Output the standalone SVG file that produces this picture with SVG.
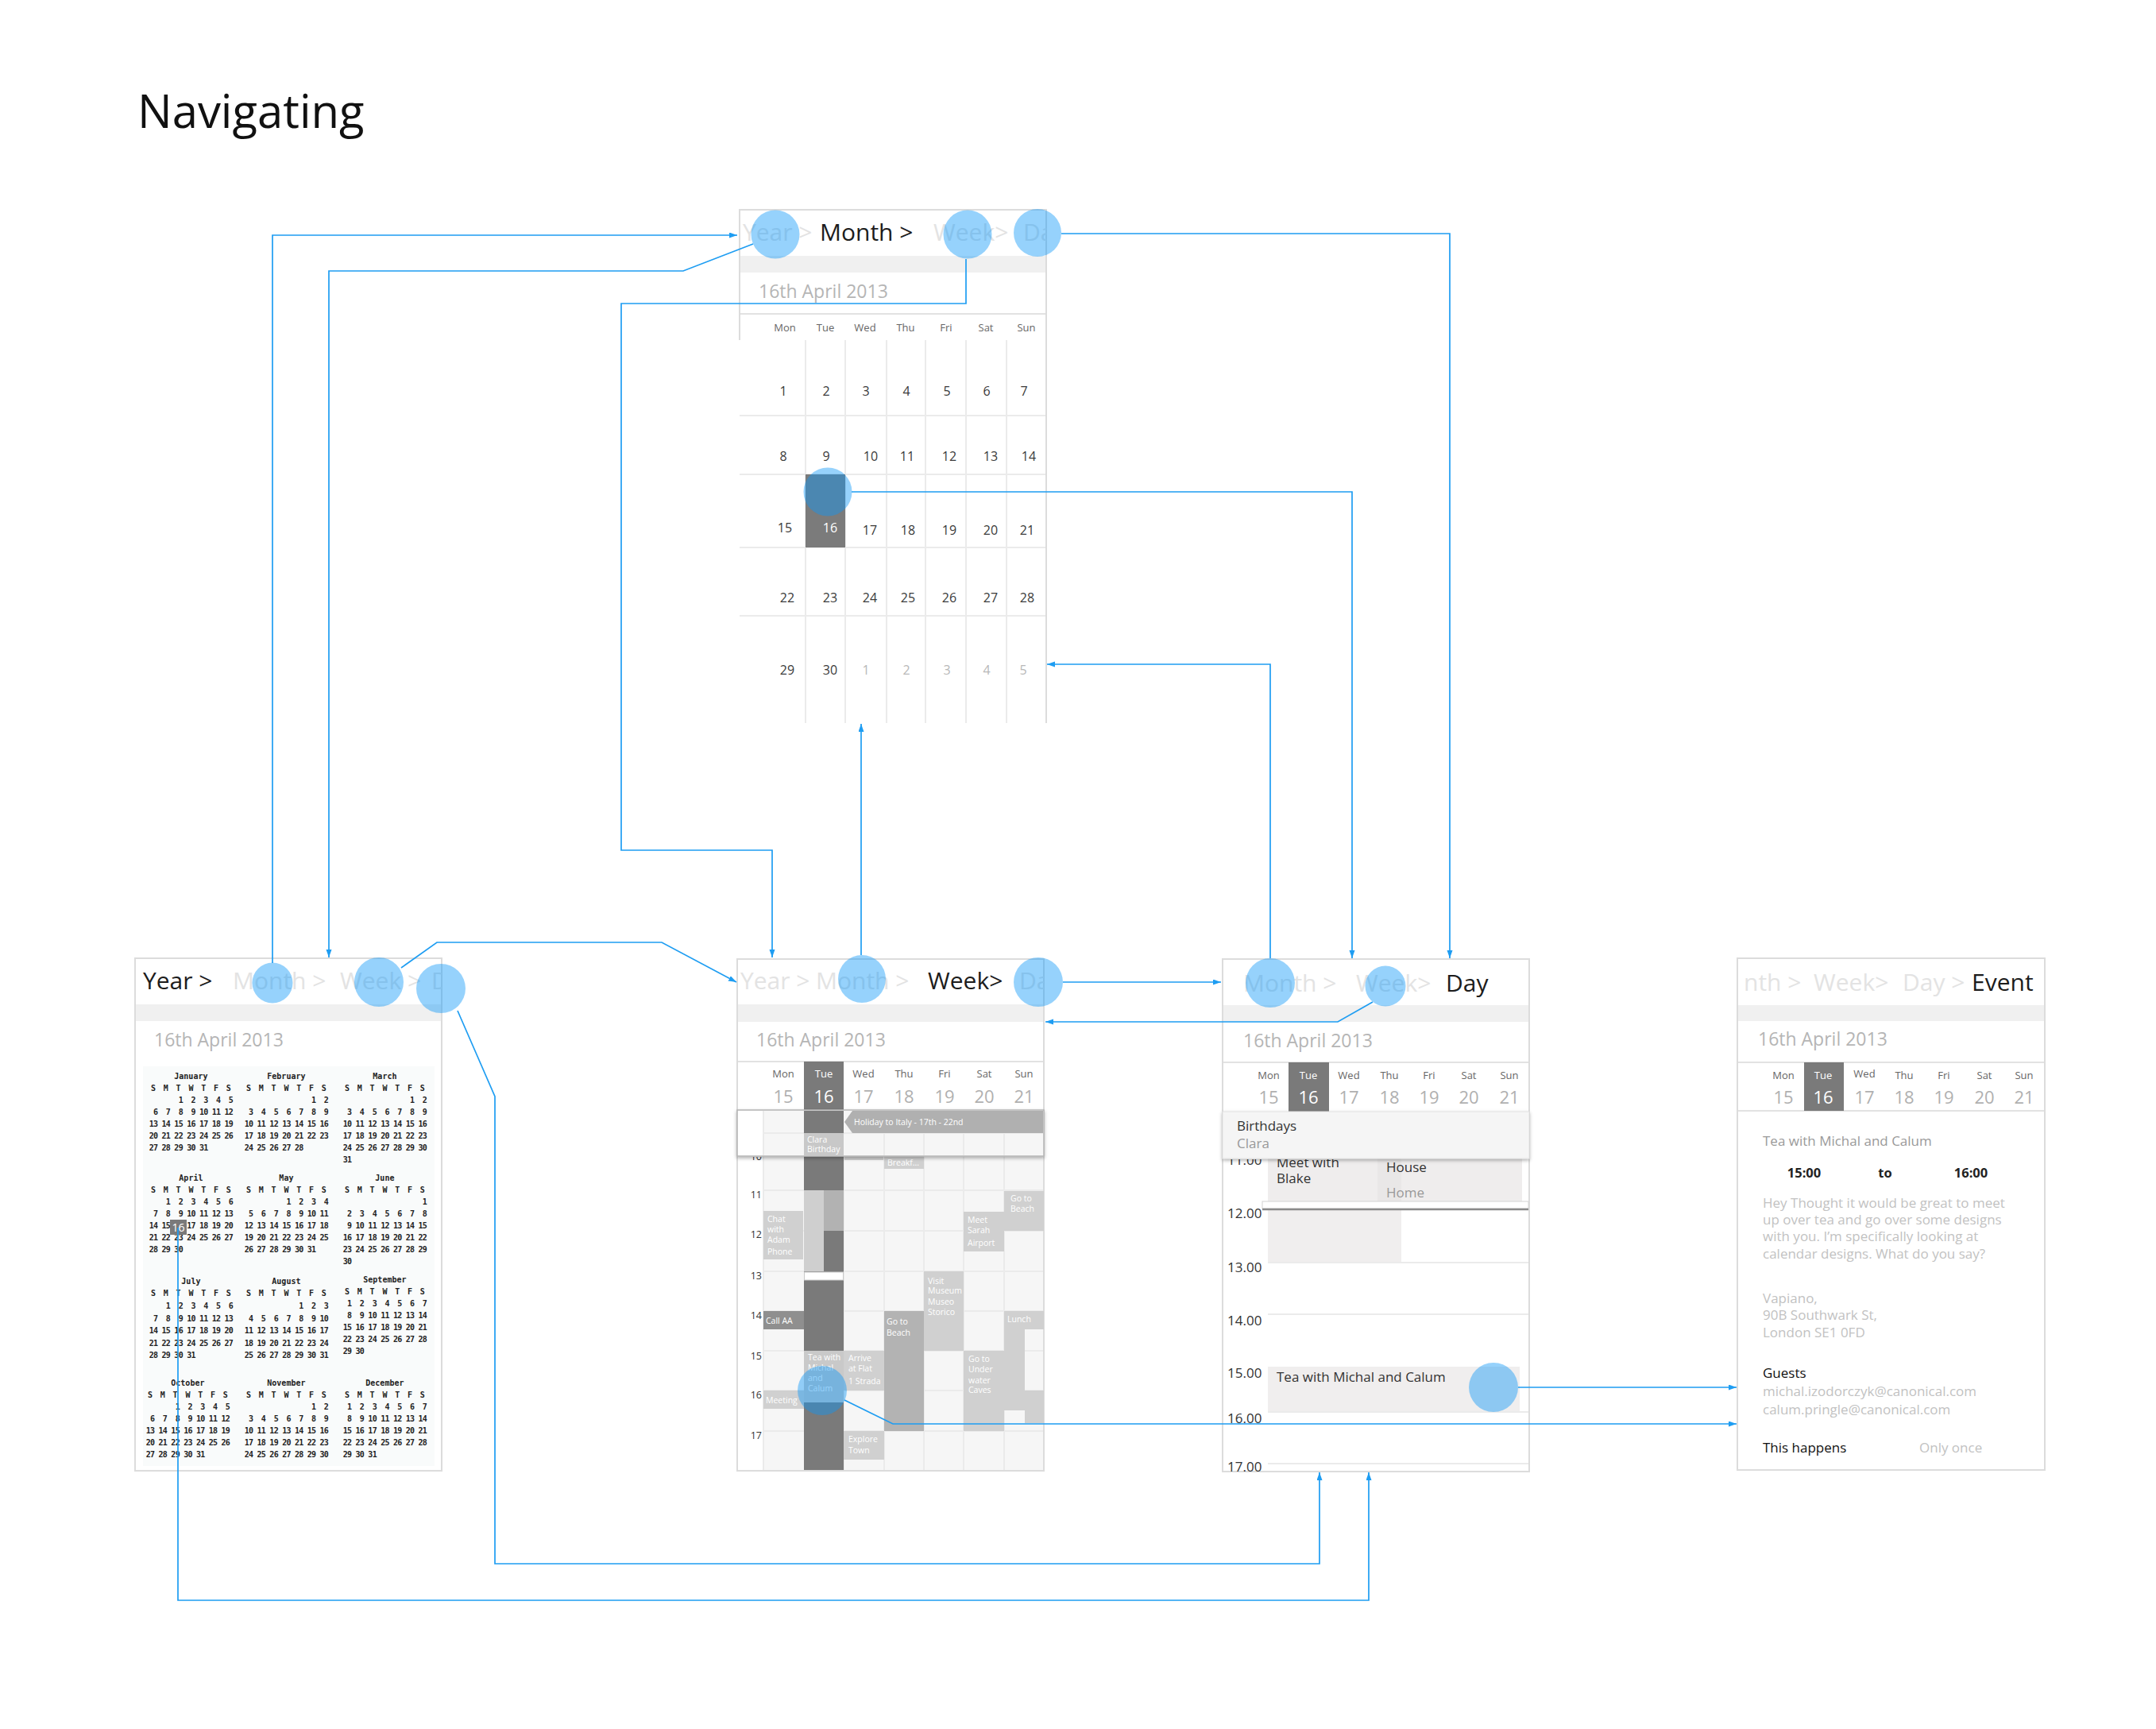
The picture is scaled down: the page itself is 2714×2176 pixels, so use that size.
<svg xmlns="http://www.w3.org/2000/svg" width="2714" height="2176" viewBox="0 0 2714 2176">
<defs>
<style>
text{font-family:"Open Sans","Noto Sans","DejaVu Sans",sans-serif}
.frame{fill:#fff;stroke:#dcdcdc;stroke-width:2}
.band{fill:#f0f0f0}
.hd{font-size:30px;fill:#e3e3e3}
.on{fill:#1c1c1c}
.date{font-size:23px;fill:#b5b5b5}
.dn{font-size:13px;fill:#666;text-anchor:middle}
.wn{font-size:22px;fill:#b0b0b0;text-anchor:middle}
.sel{fill:#fff}
.mn{font-size:16px;fill:#3a3a3a;text-anchor:middle}
.out{fill:#b8b8b8}
.gl{stroke:#ebebeb;stroke-width:2}
.hit{fill:#0c97f9;fill-opacity:.43}
.conn{fill:none;stroke:#1e9df2;stroke-width:1.7}
.ev{font-size:10.5px;fill:#fff}
.hr{font-size:12.5px;fill:#333;text-anchor:end}
.dh{font-size:17px;fill:#333}
.et{font-size:17px;fill:#c2c2c2}
.cal{font-family:"DejaVu Sans Mono",monospace;font-weight:bold;font-size:10px;fill:#222;letter-spacing:-0.753px;white-space:pre}
.calh{font-family:"DejaVu Sans Mono",monospace;font-weight:bold;font-size:10px;fill:#222;text-anchor:middle}
</style>
<marker id="arr" markerUnits="userSpaceOnUse" markerWidth="11" markerHeight="8" refX="10" refY="3.5" orient="auto">
<path d="M0,0 L10,3.5 L0,7 z" fill="#1e9df2"/>
</marker>
<filter id="sh" x="-5%" y="-20%" width="110%" height="150%">
<feDropShadow dx="0" dy="2" stdDeviation="2" flood-color="#000" flood-opacity="0.3"/>
</filter>
<clipPath id="cm"><rect x="931" y="264" width="386" height="58"/></clipPath>
<clipPath id="cy"><rect x="170" y="1206" width="386" height="58"/></clipPath>
<clipPath id="cw"><rect x="928" y="1207" width="386" height="57"/></clipPath>
<clipPath id="cwb"><rect x="928" y="1456" width="386" height="400"/></clipPath>
<clipPath id="cdb"><rect x="1539" y="1459" width="386" height="400"/></clipPath>
</defs>
<rect width="2714" height="2176" fill="#fff"/>

<g id="title"><text x="173" y="161" font-size="58" fill="#111">Navigating</text></g>

<g id="screen-month">
<rect x="931" y="264" width="386" height="646" fill="#fff"/>
<rect x="932" y="322" width="384" height="21" class="band"/>
<line x1="931" y1="395" x2="1317" y2="395" stroke="#e2e2e2" stroke-width="2"/>
<g class="gl">
<line x1="931" y1="523" x2="1317" y2="523"/><line x1="931" y1="597" x2="1317" y2="597"/>
<line x1="931" y1="689" x2="1317" y2="689"/><line x1="931" y1="775" x2="1317" y2="775"/>
<line x1="1014" y1="428" x2="1014" y2="910"/><line x1="1064" y1="428" x2="1064" y2="910"/>
<line x1="1116" y1="428" x2="1116" y2="910"/><line x1="1165" y1="428" x2="1165" y2="910"/>
<line x1="1216" y1="428" x2="1216" y2="910"/><line x1="1267" y1="428" x2="1267" y2="910"/>
</g>
<path d="M931,428 V264 H1317 V910" fill="none" stroke="#dcdcdc" stroke-width="2"/>
<rect x="1014" y="597" width="50" height="92" fill="#7b7b7b"/>
<g clip-path="url(#cm)">
<text x="935" y="303" class="hd">Year &gt;</text>
<text x="1032" y="303" class="hd on">Month &gt;</text>
<text x="1175" y="303" class="hd">Week&gt;</text>
<text x="1288" y="303" class="hd">Da</text>
</g>
<text x="955" y="375" class="date">16th April 2013</text>
<g class="dn">
<text x="988" y="417">Mon</text><text x="1039" y="417">Tue</text><text x="1089" y="417">Wed</text><text x="1140" y="417">Thu</text><text x="1191" y="417">Fri</text><text x="1241" y="417">Sat</text><text x="1292" y="417">Sun</text>
</g>
<g class="mn">
<text x="986" y="498">1</text><text x="1040" y="498">2</text><text x="1090" y="498">3</text><text x="1141" y="498">4</text><text x="1192" y="498">5</text><text x="1242" y="498">6</text><text x="1289" y="498">7</text>
<text x="986" y="580">8</text><text x="1040" y="580">9</text><text x="1096" y="580">10</text><text x="1142" y="580">11</text><text x="1195" y="580">12</text><text x="1247" y="580">13</text><text x="1295" y="580">14</text>
<text x="988" y="670">15</text><text x="1045" y="670" class="sel">16</text><text x="1095" y="673">17</text><text x="1143" y="673">18</text><text x="1195" y="673">19</text><text x="1247" y="673">20</text><text x="1293" y="673">21</text>
<text x="991" y="758">22</text><text x="1045" y="758">23</text><text x="1095" y="758">24</text><text x="1143" y="758">25</text><text x="1195" y="758">26</text><text x="1247" y="758">27</text><text x="1293" y="758">28</text>
<text x="991" y="849">29</text><text x="1045" y="849">30</text><text x="1090" y="849" class="out">1</text><text x="1141" y="849" class="out">2</text><text x="1192" y="849" class="out">3</text><text x="1242" y="849" class="out">4</text><text x="1288" y="849" class="out">5</text>
</g>
<circle cx="976" cy="295" r="30.5" class="hit"/>
<circle cx="1218" cy="295" r="30.5" class="hit"/>
<circle cx="1306" cy="293" r="30" class="hit"/>
<circle cx="1042" cy="619" r="30.5" class="hit"/>
</g>

<g id="screen-year">
<rect x="170" y="1206" width="386" height="645" class="frame"/>
<rect x="171" y="1264" width="384" height="21" class="band"/>
<rect x="180" y="1342" width="367" height="503" fill="#f9fbfb"/>
<g clip-path="url(#cy)">
<text x="180" y="1245" class="hd on">Year &gt;</text>
<text x="293" y="1245" class="hd">Month &gt;</text>
<text x="428" y="1245" class="hd">Week &gt;</text>
<text x="543" y="1245" class="hd">D</text>
</g>
<text x="194" y="1317" class="date">16th April 2013</text>
<g xml:space="preserve">
<text class="calh" x="240.4" y="1358">January</text>
<text class="calh" x="360.4" y="1358">February</text>
<text class="calh" x="484.4" y="1358">March</text>
<text class="calh" x="193 208.8 224.6 240.4 256.2 272 287.8" y="1373">SMTWTFS</text>
<text class="calh" x="313 328.8 344.6 360.4 376.2 392 407.8" y="1373">SMTWTFS</text>
<text class="calh" x="437 452.8 468.6 484.4 500.2 516 531.8" y="1373">SMTWTFS</text>
<text class="cal" x="214.1" y="1388">  1  2  3  4  5</text>
<text class="cal" x="182.5" y="1403">  6  7  8  9 10 11 12</text>
<text class="cal" x="182.5" y="1418"> 13 14 15 16 17 18 19</text>
<text class="cal" x="182.5" y="1433"> 20 21 22 23 24 25 26</text>
<text class="cal" x="182.5" y="1448"> 27 28 29 30 31</text>
<text class="cal" x="381.5" y="1388">  1  2</text>
<text class="cal" x="302.5" y="1403">  3  4  5  6  7  8  9</text>
<text class="cal" x="302.5" y="1418"> 10 11 12 13 14 15 16</text>
<text class="cal" x="302.5" y="1433"> 17 18 19 20 21 22 23</text>
<text class="cal" x="302.5" y="1448"> 24 25 26 27 28</text>
<text class="cal" x="505.5" y="1388">  1  2</text>
<text class="cal" x="426.5" y="1403">  3  4  5  6  7  8  9</text>
<text class="cal" x="426.5" y="1418"> 10 11 12 13 14 15 16</text>
<text class="cal" x="426.5" y="1433"> 17 18 19 20 21 22 23</text>
<text class="cal" x="426.5" y="1448"> 24 25 26 27 28 29 30</text>
<text class="cal" x="426.5" y="1463"> 31</text>

<text class="calh" x="240.4" y="1486">April</text>
<text class="calh" x="360.4" y="1486">May</text>
<text class="calh" x="484.4" y="1486">June</text>
<text class="calh" x="193 208.8 224.6 240.4 256.2 272 287.8" y="1501">SMTWTFS</text>
<text class="calh" x="313 328.8 344.6 360.4 376.2 392 407.8" y="1501">SMTWTFS</text>
<text class="calh" x="437 452.8 468.6 484.4 500.2 516 531.8" y="1501">SMTWTFS</text>
<text class="cal" x="198.3" y="1516">  1  2  3  4  5  6</text>
<text class="cal" x="182.5" y="1531">  7  8  9 10 11 12 13</text>
<text class="cal" x="182.5" y="1546"> 14 15</text>
<text class="cal" x="229.9" y="1546"> 17 18 19 20</text>
<text class="cal" x="182.5" y="1561"> 21 22 23 24 25 26 27</text>
<text class="cal" x="182.5" y="1576"> 28 29 30</text>
<text class="cal" x="349.9" y="1516">  1  2  3  4</text>
<text class="cal" x="302.5" y="1531">  5  6  7  8  9 10 11</text>
<text class="cal" x="302.5" y="1546"> 12 13 14 15 16 17 18</text>
<text class="cal" x="302.5" y="1561"> 19 20 21 22 23 24 25</text>
<text class="cal" x="302.5" y="1576"> 26 27 28 29 30 31</text>
<text class="cal" x="521.3" y="1516">  1</text>
<text class="cal" x="426.5" y="1531">  2  3  4  5  6  7  8</text>
<text class="cal" x="426.5" y="1546">  9 10 11 12 13 14 15</text>
<text class="cal" x="426.5" y="1561"> 16 17 18 19 20 21 22</text>
<text class="cal" x="426.5" y="1576"> 23 24 25 26 27 28 29</text>
<text class="cal" x="426.5" y="1591"> 30</text>

<text class="calh" x="240.4" y="1616">July</text>
<text class="calh" x="360.4" y="1616">August</text>
<text class="calh" x="484.4" y="1614">September</text>
<text class="calh" x="193 208.8 224.6 240.4 256.2 272 287.8" y="1631">SMTWTFS</text>
<text class="calh" x="313 328.8 344.6 360.4 376.2 392 407.8" y="1631">SMTWTFS</text>
<text class="calh" x="437 452.8 468.6 484.4 500.2 516 531.8" y="1629">SMTWTFS</text>
<text class="cal" x="198.3" y="1647">  1  2  3  4  5  6</text>
<text class="cal" x="182.5" y="1662.5">  7  8  9 10 11 12 13</text>
<text class="cal" x="182.5" y="1678"> 14 15 16 17 18 19 20</text>
<text class="cal" x="182.5" y="1693.5"> 21 22 23 24 25 26 27</text>
<text class="cal" x="182.5" y="1709"> 28 29 30 31</text>
<text class="cal" x="365.7" y="1647">  1  2  3</text>
<text class="cal" x="302.5" y="1662.5">  4  5  6  7  8  9 10</text>
<text class="cal" x="302.5" y="1678"> 11 12 13 14 15 16 17</text>
<text class="cal" x="302.5" y="1693.5"> 18 19 20 21 22 23 24</text>
<text class="cal" x="302.5" y="1709"> 25 26 27 28 29 30 31</text>
<text class="cal" x="426.5" y="1644">  1  2  3  4  5  6  7</text>
<text class="cal" x="426.5" y="1659">  8  9 10 11 12 13 14</text>
<text class="cal" x="426.5" y="1674"> 15 16 17 18 19 20 21</text>
<text class="cal" x="426.5" y="1689"> 22 23 24 25 26 27 28</text>
<text class="cal" x="426.5" y="1704"> 29 30</text>

<text class="calh" x="236.4" y="1744">October</text>
<text class="calh" x="360.4" y="1744">November</text>
<text class="calh" x="484.4" y="1744">December</text>
<text class="calh" x="189 204.8 220.6 236.4 252.2 268 283.8" y="1759">SMTWTFS</text>
<text class="calh" x="313 328.8 344.6 360.4 376.2 392 407.8" y="1759">SMTWTFS</text>
<text class="calh" x="437 452.8 468.6 484.4 500.2 516 531.8" y="1759">SMTWTFS</text>
<text class="cal" x="210.1" y="1774">  1  2  3  4  5</text>
<text class="cal" x="178.5" y="1789">  6  7  8  9 10 11 12</text>
<text class="cal" x="178.5" y="1804"> 13 14 15 16 17 18 19</text>
<text class="cal" x="178.5" y="1819"> 20 21 22 23 24 25 26</text>
<text class="cal" x="178.5" y="1834"> 27 28 29 30 31</text>
<text class="cal" x="381.5" y="1774">  1  2</text>
<text class="cal" x="302.5" y="1789">  3  4  5  6  7  8  9</text>
<text class="cal" x="302.5" y="1804"> 10 11 12 13 14 15 16</text>
<text class="cal" x="302.5" y="1819"> 17 18 19 20 21 22 23</text>
<text class="cal" x="302.5" y="1834"> 24 25 26 27 28 29 30</text>
<text class="cal" x="426.5" y="1774">  1  2  3  4  5  6  7</text>
<text class="cal" x="426.5" y="1789">  8  9 10 11 12 13 14</text>
<text class="cal" x="426.5" y="1804"> 15 16 17 18 19 20 21</text>
<text class="cal" x="426.5" y="1819"> 22 23 24 25 26 27 28</text>
<text class="cal" x="426.5" y="1834"> 29 30 31</text>
</g>
<rect x="214" y="1535" width="21" height="19" fill="#7a7a7a"/>
<text x="224.5" y="1550" font-size="14" fill="#fff" text-anchor="middle">16</text>
<circle cx="343" cy="1237" r="25.5" class="hit"/>
<circle cx="477" cy="1236" r="31" class="hit"/>
<circle cx="555" cy="1244" r="31" class="hit"/>
</g>

<g id="screen-week">
<rect x="928" y="1207" width="386" height="644" class="frame"/>
<rect x="929" y="1264" width="384" height="22" class="band"/>
<line x1="929" y1="1336" x2="1313" y2="1336" stroke="#e2e2e2" stroke-width="2"/>
<rect x="961" y="1397" width="352" height="453" fill="#f6f6f6"/>
<g class="gl">
<line x1="961" y1="1448" x2="1313" y2="1448"/><line x1="961" y1="1498" x2="1313" y2="1498"/>
<line x1="961" y1="1549" x2="1313" y2="1549"/><line x1="961" y1="1600" x2="1313" y2="1600"/>
<line x1="961" y1="1650" x2="1313" y2="1650"/><line x1="961" y1="1700" x2="1313" y2="1700"/>
<line x1="961" y1="1750" x2="1313" y2="1750"/><line x1="961" y1="1801" x2="1313" y2="1801"/>
<line x1="961" y1="1397" x2="961" y2="1850"/><line x1="1113" y1="1397" x2="1113" y2="1850"/>
<line x1="1062" y1="1397" x2="1062" y2="1850"/><line x1="1163" y1="1397" x2="1163" y2="1850"/>
<line x1="1213" y1="1397" x2="1213" y2="1850"/><line x1="1264" y1="1397" x2="1264" y2="1850"/>
</g>
<rect x="1012" y="1336" width="50" height="514" fill="#7a7a7a"/>
<g clip-path="url(#cw)">
<text x="932" y="1245" class="hd">Year &gt;</text>
<text x="1027" y="1245" class="hd">Month &gt;</text>
<text x="1168" y="1245" class="hd on">Week&gt;</text>
<text x="1283" y="1245" class="hd">Da</text>
</g>
<text x="952" y="1317" class="date">16th April 2013</text>
<g class="dn">
<text x="986" y="1356">Mon</text><text x="1037" y="1356" class="sel">Tue</text><text x="1087" y="1356">Wed</text><text x="1138" y="1356">Thu</text><text x="1189" y="1356">Fri</text><text x="1239" y="1356">Sat</text><text x="1289" y="1356">Sun</text>
</g>
<g class="wn">
<text x="986" y="1388">15</text><text x="1037" y="1388" class="sel">16</text><text x="1087" y="1388">17</text><text x="1138" y="1388">18</text><text x="1189" y="1388">19</text><text x="1239" y="1388">20</text><text x="1289" y="1388">21</text>
</g>
<g fill="#d0d0d0">
<rect x="961" y="1524" width="50" height="61"/>
<rect x="961" y="1750" width="51" height="23"/>
<rect x="1012" y="1498" width="25" height="102" fill="#cfcfcf"/>
<rect x="1037" y="1498" width="25" height="51" fill="#b2b2b2"/>
<rect x="1012" y="1700" width="50" height="65" fill="#c9c9c9"/>
<rect x="1063" y="1455" width="49" height="5"/>
<rect x="1062" y="1700" width="51" height="50"/>
<rect x="1062" y="1801" width="51" height="36"/>
<rect x="1113" y="1448" width="50" height="23"/>
<rect x="1163" y="1600" width="50" height="100"/>
<rect x="1213" y="1525" width="51" height="50"/>
<rect x="1213" y="1700" width="51" height="101"/>
<rect x="1264" y="1499" width="50" height="50"/>
<rect x="1264" y="1650" width="50" height="23"/>
<rect x="1264" y="1673" width="26" height="102"/>
<rect x="1290" y="1750" width="24" height="41"/>
</g>
<rect x="961" y="1650" width="51" height="23" fill="#8f8f8f"/>
<rect x="1113" y="1650" width="50" height="151" fill="#b3b3b3"/>
<rect x="1012.5" y="1601" width="49" height="10" fill="#fff" stroke="#c8c8c8" stroke-width="1"/>
<g class="ev">
<text x="1117" y="1467" clip-path="url(#cwb)">Breakf...</text>
<text x="966" y="1538">Chat</text><text x="966" y="1551">with</text><text x="966" y="1564">Adam</text><text x="966" y="1579">Phone</text>
<text x="964" y="1666">Call AA</text>
<text x="964" y="1766">Meeting</text>
<text x="1017" y="1712">Tea with</text><text x="1017" y="1725">Michal</text><text x="1017" y="1738">and</text><text x="1017" y="1751">Calum</text>
<text x="1068" y="1713">Arrive</text><text x="1068" y="1726">at Flat</text><text x="1068" y="1742">1 Strada</text>
<text x="1068" y="1815">Explore</text><text x="1068" y="1829">Town</text>
<text x="1116" y="1667">Go to</text><text x="1116" y="1681">Beach</text>
<text x="1168" y="1616">Visit</text><text x="1168" y="1628">Museum</text><text x="1168" y="1642">Museo</text><text x="1168" y="1655">Storico</text>
<text x="1218" y="1539">Meet</text><text x="1218" y="1552">Sarah</text><text x="1218" y="1568">Airport</text>
<text x="1219" y="1714">Go to</text><text x="1219" y="1727">Under</text><text x="1219" y="1741">water</text><text x="1219" y="1753">Caves</text>
<text x="1272" y="1512">Go to</text><text x="1272" y="1525">Beach</text>
<text x="1268" y="1664">Lunch</text>
</g>
<g class="hr">
<text x="959" y="1460" clip-path="url(#cwb)">10</text><text x="959" y="1508">11</text><text x="959" y="1558">12</text><text x="959" y="1610">13</text><text x="959" y="1660">14</text><text x="959" y="1711">15</text><text x="959" y="1760">16</text><text x="959" y="1811">17</text>
</g>
<rect x="928" y="1397" width="386" height="58" fill="#f6f6f6" stroke="#b5b5b5" stroke-width="1.5" filter="url(#sh)"/>
<rect x="929" y="1398" width="32" height="56" fill="#fff"/>
<rect x="1012" y="1398" width="50" height="28" fill="#7a7a7a"/>
<rect x="1012" y="1426" width="50" height="28.5" fill="#c8c8c8"/>
<g class="gl">
<line x1="961" y1="1426" x2="1012" y2="1426"/><line x1="1062" y1="1426" x2="1313" y2="1426"/>
<line x1="961" y1="1398" x2="961" y2="1454"/><line x1="1113" y1="1426" x2="1113" y2="1454"/>
<line x1="1163" y1="1426" x2="1163" y2="1454"/><line x1="1213" y1="1426" x2="1213" y2="1454"/>
<line x1="1264" y1="1426" x2="1264" y2="1454"/>
</g>
<polygon points="1063,1412 1073,1398 1313,1398 1313,1426 1073,1426" fill="#b0b0b0"/>
<text x="1075" y="1416" class="ev">Holiday to Italy - 17th - 22nd</text>
<text x="1016" y="1438" class="ev">Clara</text>
<text x="1016" y="1450" class="ev">Birthday</text>
<circle cx="1085" cy="1232" r="30" class="hit"/>
<circle cx="1307" cy="1236" r="31" class="hit"/>
<circle cx="1035" cy="1750" r="31" class="hit"/>
</g>

<g id="screen-day">
<rect x="1539" y="1207" width="386" height="645" class="frame"/>
<rect x="1540" y="1265" width="384" height="21" class="band"/>
<text x="1565" y="1248" class="hd">Month &gt;</text>
<text x="1707" y="1248" class="hd">Week&gt;</text>
<text x="1820" y="1248" class="hd on">Day</text>
<text x="1565" y="1318" class="date">16th April 2013</text>
<line x1="1540" y1="1337" x2="1924" y2="1337" stroke="#e2e2e2" stroke-width="2"/>
<rect x="1622" y="1337" width="51" height="62" fill="#7a7a7a"/>
<g class="dn">
<text x="1597" y="1358">Mon</text><text x="1647" y="1358" class="sel">Tue</text><text x="1698" y="1358">Wed</text><text x="1749" y="1358">Thu</text><text x="1799" y="1358">Fri</text><text x="1849" y="1358">Sat</text><text x="1900" y="1358">Sun</text>
</g>
<g class="wn">
<text x="1597" y="1389">15</text><text x="1647" y="1389" class="sel">16</text><text x="1698" y="1389">17</text><text x="1749" y="1389">18</text><text x="1799" y="1389">19</text><text x="1849" y="1389">20</text><text x="1900" y="1389">21</text>
</g>
<rect x="1596" y="1440" width="168" height="72" fill="#efeded"/>
<rect x="1734" y="1440" width="182" height="72" fill="#efeded"/>
<rect x="1734" y="1440" width="30" height="72" fill="#e9e7e7"/>
<g clip-path="url(#cdb)">
<text x="1545" y="1466" class="dh">11.00</text>
<text x="1607" y="1469" class="dh">Meet with</text>
</g>
<text x="1607" y="1489" class="dh">Blake</text>
<text x="1745" y="1475" class="dh">House</text>
<text x="1745" y="1507" class="dh" style="fill:#999">Home</text>
<rect x="1539" y="1399" width="386" height="59" fill="#f5f5f5" stroke="#e2e2e2" stroke-width="1" filter="url(#sh)"/>
<text x="1557" y="1423" class="dh">Birthdays</text>
<text x="1557" y="1445" class="dh" style="fill:#999">Clara</text>
<rect x="1596" y="1522" width="168" height="66" fill="#f0eeee"/>
<rect x="1589" y="1512" width="335" height="9" fill="#fff" stroke="#d4d4d4" stroke-width="1"/>
<line x1="1589" y1="1522" x2="1924" y2="1522" stroke="#8a8a8a" stroke-width="2.5"/>
<rect x="1596" y="1720" width="317" height="57" fill="#f0eeee"/>
<g class="gl">
<line x1="1596" y1="1589" x2="1924" y2="1589"/><line x1="1596" y1="1654" x2="1924" y2="1654"/>
<line x1="1596" y1="1777" x2="1924" y2="1777"/><line x1="1596" y1="1842" x2="1924" y2="1842"/>
</g>
<g class="dh">
<text x="1545" y="1533">12.00</text><text x="1545" y="1601">13.00</text><text x="1545" y="1668">14.00</text><text x="1545" y="1734">15.00</text><text x="1545" y="1791">16.00</text><text x="1545" y="1852">17.00</text>
</g>
<text x="1607" y="1739" class="dh">Tea with Michal and Calum</text>
<circle cx="1599" cy="1237" r="31" class="hit"/>
<circle cx="1744" cy="1241" r="25.5" class="hit"/>
<circle cx="1880" cy="1746" r="31" class="hit"/>
</g>

<g id="screen-event">
<rect x="2187" y="1206" width="387" height="644" class="frame"/>
<rect x="2188" y="1265" width="385" height="20" class="band"/>
<text x="2195" y="1247" class="hd">nth &gt;</text>
<text x="2283" y="1247" class="hd">Week&gt;</text>
<text x="2395" y="1247" class="hd">Day &gt;</text>
<text x="2482" y="1247" class="hd on">Event</text>
<text x="2213" y="1316" class="date">16th April 2013</text>
<line x1="2188" y1="1337" x2="2573" y2="1337" stroke="#e2e2e2" stroke-width="2"/>
<line x1="2188" y1="1398" x2="2573" y2="1398" stroke="#e2e2e2" stroke-width="2"/>
<rect x="2271" y="1337" width="50" height="61" fill="#7a7a7a"/>
<g class="dn">
<text x="2245" y="1358">Mon</text><text x="2295" y="1358" class="sel">Tue</text><text x="2347" y="1356">Wed</text><text x="2397" y="1358">Thu</text><text x="2447" y="1358">Fri</text><text x="2498" y="1358">Sat</text><text x="2548" y="1358">Sun</text>
</g>
<g class="wn">
<text x="2245" y="1389">15</text><text x="2295" y="1389" class="sel">16</text><text x="2347" y="1389">17</text><text x="2397" y="1389">18</text><text x="2447" y="1389">19</text><text x="2498" y="1389">20</text><text x="2548" y="1389">21</text>
</g>
<text x="2219" y="1442" class="et" style="fill:#9a9a9a">Tea with Michal and Calum</text>
<g font-size="16.5" font-weight="bold" fill="#222" text-anchor="middle">
<text x="2271" y="1482">15:00</text><text x="2373" y="1482">to</text><text x="2481" y="1482">16:00</text>
</g>
<g class="et">
<text x="2219" y="1520">Hey Thought it would be great to meet</text>
<text x="2219" y="1541">up over tea and go over some designs</text>
<text x="2219" y="1562">with you. I’m specifically looking at</text>
<text x="2219" y="1584">calendar designs. What do you say?</text>
<text x="2219" y="1640">Vapiano,</text>
<text x="2219" y="1661">90B Southwark St,</text>
<text x="2219" y="1683">London SE1 0FD</text>
<text x="2219" y="1757">michal.izodorczyk@canonical.com</text>
<text x="2219" y="1780">calum.pringle@canonical.com</text>
<text x="2416" y="1828">Only once</text>
</g>
<text x="2219" y="1734" class="et" style="fill:#111">Guests</text>
<text x="2219" y="1828" class="et" style="fill:#111">This happens</text>
</g>

<g id="connectors">
<path class="conn" marker-end="url(#arr)" d="M343,1212 V296 H928"/>
<path class="conn" marker-end="url(#arr)" d="M948,307 L860,341 H414 V1205"/>
<path class="conn" marker-end="url(#arr)" d="M1216,326 V382 H782 V1070 H972 V1205"/>
<path class="conn" marker-end="url(#arr)" d="M1336,294 H1825 V1206"/>
<path class="conn" marker-end="url(#arr)" d="M1072,619 H1702 V1206"/>
<path class="conn" marker-end="url(#arr)" d="M1599,1206 V836 H1318"/>
<path class="conn" marker-end="url(#arr)" d="M1084,1202 V911"/>
<path class="conn" marker-end="url(#arr)" d="M505,1218 L550,1186 H833 L927,1236"/>
<path class="conn" marker-end="url(#arr)" d="M1338,1236 H1537"/>
<path class="conn" marker-end="url(#arr)" d="M1728,1261 L1684,1286 H1316"/>
<path class="conn" marker-end="url(#arr)" d="M576,1272 L623,1380 V1968 H1661 V1853"/>
<path class="conn" marker-end="url(#arr)" d="M224,1545 V2014 H1723 V1853"/>
<path class="conn" marker-end="url(#arr)" d="M1063,1762 L1124,1792 H2186"/>
<path class="conn" marker-end="url(#arr)" d="M1911,1746 H2186"/>
</g>
</svg>
